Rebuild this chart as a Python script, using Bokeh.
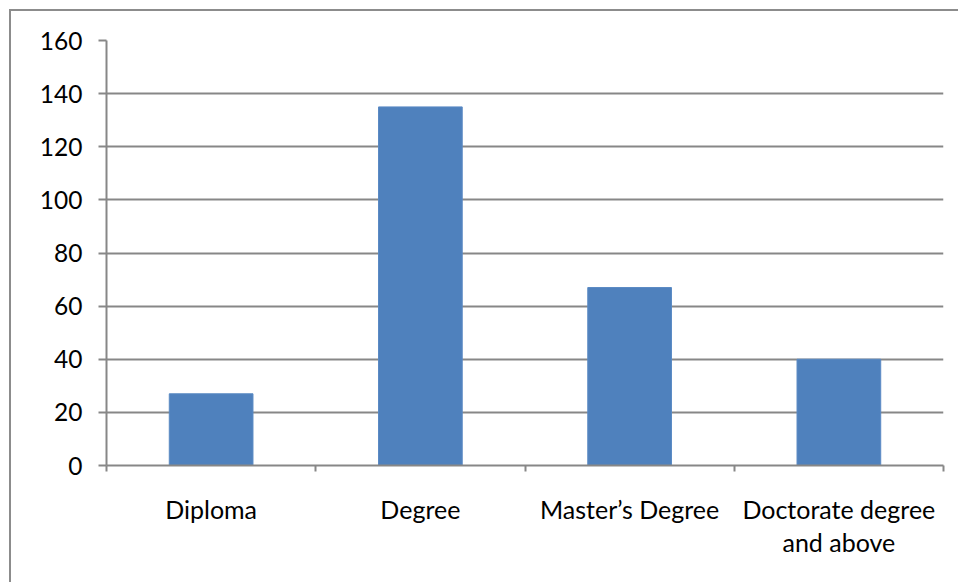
from bokeh.plotting import figure
from bokeh.models import Range1d, LinearAxis, FixedTicker
from bokeh.embed import file_html
from bokeh.resources import INLINE

categories = ["Diploma", "Degree", "Master\u2019s Degree", "Doctorate degree\nand above"]
counts = [27, 135, 67, 40]
y_ticks = [0, 20, 40, 60, 80, 100, 120, 140, 160]

FONT = "Lato"
GRAY = "#878787"

n = len(categories)
centers = [i + 0.5 for i in range(n)]
edges = list(range(n + 1))

p = figure(
    x_range=Range1d(0, n),
    y_range=Range1d(0, 160),
    width=949, height=573,
    output_backend="svg", toolbar_location=None,
    min_border_left=95, min_border_right=17, min_border_top=29, min_border_bottom=119,
    margin=(9, 0, 0, 9),
    x_axis_location=None,
)
p.styles = {"border-top": "2px solid #8c8c8c", "border-left": "2px solid #8c8c8c"}
p.outline_line_color = None
p.background_fill_color = "white"
p.border_fill_color = "white"

p.vbar(x=centers, top=counts, width=0.4, fill_color="#4F81BD", line_color="#5A8AC4", line_width=1)

# y axis
p.yaxis.ticker = FixedTicker(ticks=y_ticks)
p.yaxis.axis_line_color = GRAY
p.yaxis.axis_line_width = 2
p.yaxis.major_tick_line_color = GRAY
p.yaxis.major_tick_line_width = 2
p.yaxis.major_tick_in = 0
p.yaxis.major_tick_out = 8
p.yaxis.minor_tick_line_color = None
p.yaxis.major_label_standoff = 16
p.yaxis.major_label_text_font = FONT
p.yaxis.major_label_text_font_size = "24.5px"
p.yaxis.major_label_text_color = "black"

p.ygrid.ticker = FixedTicker(ticks=y_ticks)
p.ygrid.grid_line_color = GRAY
p.ygrid.grid_line_width = 2
p.xgrid.grid_line_color = None

# category axis: labels at centres, tick marks (minor) at category boundaries
xa = LinearAxis(ticker=FixedTicker(ticks=centers, minor_ticks=edges))
xa.axis_line_color = GRAY
xa.axis_line_width = 2
xa.major_tick_line_color = None
xa.major_tick_in = 0
xa.major_tick_out = 0
xa.minor_tick_line_color = GRAY
xa.minor_tick_line_width = 2
xa.minor_tick_in = 0
xa.minor_tick_out = 6
xa.major_label_standoff = 22
xa.major_label_text_font = FONT
xa.major_label_text_font_size = "25px"
xa.major_label_text_color = "black"
xa.major_label_text_align = "center"
xa.major_label_overrides = {c: lab for c, lab in zip(centers, categories)}
xa.major_label_text_line_height = 1.1
p.add_layout(xa, "below")

open("out.html", "w").write(file_html(p, INLINE))
